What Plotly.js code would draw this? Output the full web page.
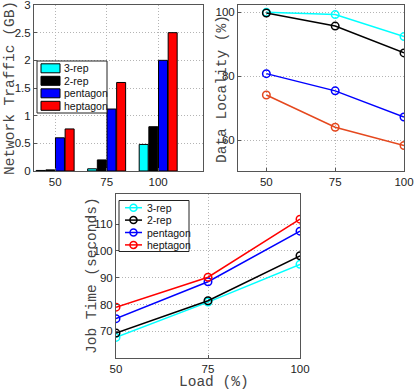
<!DOCTYPE html>
<html>
<head>
<meta charset="utf-8">
<script src="https://cdn.plot.ly/plotly-3.0.1.min.js"></script>
<style>
  html, body { margin: 0; padding: 0; background: #fff; }
  #chart { width: 415px; height: 392px; }
</style>
</head>
<body>
<div id="chart"></div>
<script>
// datos
const loads = [50, 75, 100];
const loadLabels = ['50', '75', '100'];
const seriesNames = ['3-rep', '2-rep', 'pentagon', 'heptagon'];

// trafico de red (GB)
const traffic3rep = [0.01, 0.04, 0.48];
const traffic2rep = [0.02, 0.2, 0.8];
const trafficPentagon = [0.6, 1.12, 2.0];
const trafficHeptagon = [0.76, 1.6, 2.5];

// localidad de datos (%)
const locality3rep = [100, 99.3, 92.4];
const locality2rep = [99.8, 95.7, 87.3];
const localityPentagon = [80.8, 75.4, 67.2];
const localityHeptagon = [74.1, 64.0, 58.3];

// tiempo de trabajo (s)
const job3rep = [67.7, 80.9, 95.0];
const job2rep = [69.3, 81.4, 98.2];
const jobPentagon = [74.7, 88.5, 107.4];
const jobHeptagon = [79.0, 90.2, 111.9];

const W = 415, H = 392;
const px = x => x / W;
const py = y => 1 - y / H;

const barColors = ['#00ffff', '#000000', '#0000ff', '#ff0000'];
const localityColors = ['#00ffff', '#000000', '#0000ff', '#e5481e'];
const jobColors = ['#00ffff', '#000000', '#0000ff', '#ff0000'];

const trafficData = [traffic3rep, traffic2rep, trafficPentagon, trafficHeptagon];
const localityData = [locality3rep, locality2rep, localityPentagon, localityHeptagon];
const jobData = [job3rep, job2rep, jobPentagon, jobHeptagon];

const traces = [];
trafficData.forEach((vals, i) => {
    traces.push({
        type: 'bar', x: loadLabels, y: vals, name: seriesNames[i],
        xaxis: 'x', yaxis: 'y', showlegend: false,
        marker: { color: barColors[i], line: { color: '#000', width: 1 } }
    });
});
localityData.forEach((vals, i) => {
    traces.push({
        type: 'scatter', mode: 'lines+markers', x: loads, y: vals, name: seriesNames[i],
        xaxis: 'x2', yaxis: 'y2', showlegend: false,
        line: { color: localityColors[i], width: 1.5 },
        marker: { symbol: 'circle-open', size: 7.5, color: localityColors[i], line: { width: 1.5 } }
    });
});
jobData.forEach((vals, i) => {
    traces.push({
        type: 'scatter', mode: 'lines+markers', x: loads, y: vals, name: seriesNames[i],
        xaxis: 'x3', yaxis: 'y3', showlegend: false,
        line: { color: jobColors[i], width: 1.5 },
        marker: { symbol: 'circle-open', size: 7.5, color: jobColors[i], line: { width: 1.5 } }
    });
});

const tickFont = { family: 'Liberation Sans, Arial, sans-serif', size: 11.5, color: '#222' };
const axisBase = {
    showline: true, mirror: true, linecolor: '#555', linewidth: 1,
    ticks: 'inside', ticklen: 3, tickcolor: '#555',
    showgrid: true, gridcolor: '#b4b4b4', griddash: '1px,2px', gridwidth: 1,
    zeroline: false, tickfont: tickFont, fixedrange: true, ticklabeloverflow: 'allow'
};

const monoFont = { family: 'Liberation Mono, Courier New, monospace', size: 14.5, color: '#444' };

const annotations = [
    { text: 'Network Traffic (GB)', x: px(10), y: py(88), textangle: -90 },
    { text: 'Data Locality (%)', x: px(222), y: py(89), textangle: -90 },
    { text: 'Job Time (seconds)', x: px(92), y: py(276), textangle: -90 },
    { text: 'Load (%)', x: px(214), y: py(382), textangle: 0 }
].map(a => Object.assign({ xref: 'paper', yref: 'paper', showarrow: false, font: monoFont,
    xanchor: 'center', yanchor: 'middle' }, a));

const shapes = [];
const legFont = { family: 'Liberation Sans, Arial, sans-serif', size: 10.5, color: '#111' };

// leyenda de barras
shapes.push({ type: 'rect', xref: 'paper', yref: 'paper', x0: px(37), x1: px(107), y0: py(113), y1: py(61),
    line: { color: '#222', width: 1 }, fillcolor: '#fff' });
seriesNames.forEach((name, i) => {
    const yc = 68.3 + i * 12.5;
    shapes.push({ type: 'rect', xref: 'paper', yref: 'paper', x0: px(41), x1: px(60), y0: py(yc + 4.5), y1: py(yc - 4.5),
        line: { color: '#000', width: 1 }, fillcolor: barColors[i] });
    annotations.push({ text: name, xref: 'paper', yref: 'paper', x: px(62), y: py(yc), xanchor: 'left', yanchor: 'middle',
        showarrow: false, font: legFont });
});

// leyenda de lineas
shapes.push({ type: 'rect', xref: 'paper', yref: 'paper', x0: px(119), x1: px(189), y0: py(251.5), y1: py(200.5),
    line: { color: '#222', width: 1 }, fillcolor: '#fff' });
seriesNames.forEach((name, i) => {
    const yc = 207.7 + i * 12.4;
    shapes.push({ type: 'line', xref: 'paper', yref: 'paper', x0: px(125), x1: px(142), y0: py(yc), y1: py(yc),
        line: { color: jobColors[i], width: 1.5 } });
    shapes.push({ type: 'circle', xref: 'paper', yref: 'paper', x0: px(130), x1: px(137), y0: py(yc + 3.5), y1: py(yc - 3.5),
        line: { color: jobColors[i], width: 1.5 }, fillcolor: 'rgba(0,0,0,0)' });
    annotations.push({ text: name, xref: 'paper', yref: 'paper', x: px(145), y: py(yc), xanchor: 'left', yanchor: 'middle',
        showarrow: false, font: legFont });
});

const layout = {
    width: W, height: H,
    margin: { l: 0, r: 0, t: 0, b: 0 },
    paper_bgcolor: '#fff', plot_bgcolor: '#fff',
    showlegend: false,
    barmode: 'group', bargap: 0.25, bargroupgap: 0.07,
    xaxis: Object.assign({}, axisBase, { domain: [px(34), px(203)], anchor: 'y', type: 'category',
        range: [-0.41, 2.87] }),
    yaxis: Object.assign({}, axisBase, { domain: [py(171), py(5)], anchor: 'x', range: [0, 3],
        tickvals: [0, 0.5, 1, 1.5, 2, 2.5, 3], ticktext: ['0', '0.5', '1', '1.5', '2', '2.5', '3'] }),
    xaxis2: Object.assign({}, axisBase, { domain: [px(238), px(404)], anchor: 'y2', range: [39.7, 100],
        tickvals: loads, ticktext: loadLabels }),
    yaxis2: Object.assign({}, axisBase, { domain: [py(171), py(5)], anchor: 'x2', range: [50.3, 102.3],
        tickvals: [60, 80, 100] }),
    xaxis3: Object.assign({}, axisBase, { domain: [px(116), px(300)], anchor: 'y3', range: [50, 100],
        tickvals: loads, ticktext: loadLabels }),
    yaxis3: Object.assign({}, axisBase, { domain: [py(358), py(194)], anchor: 'x3', range: [60, 121.3],
        tickvals: [70, 80, 90, 100, 110] }),
    annotations: annotations,
    shapes: shapes
};

Plotly.newPlot('chart', traces, layout, { displayModeBar: false, staticPlot: true });
</script>
</body>
</html>
